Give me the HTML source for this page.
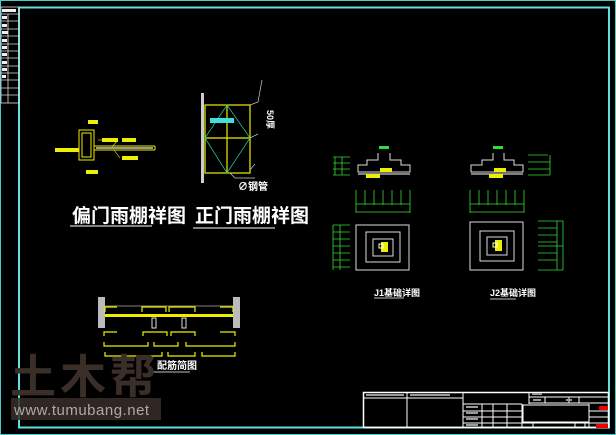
<!DOCTYPE html>
<html><head><meta charset="utf-8"><style>
html,body{margin:0;padding:0;background:#000;width:616px;height:435px;overflow:hidden}
svg{display:block}
text{font-family:"Liberation Sans","Noto Sans CJK SC",sans-serif}
</style></head><body>
<svg width="616" height="435" viewBox="0 0 616 435" xmlns="http://www.w3.org/2000/svg">
<rect width="616" height="435" fill="#000"/>
<rect x="0.5" y="0.5" width="615" height="434" fill="none" stroke="#4cc" stroke-width="1"/>
<rect x="19" y="7.5" width="590" height="420" fill="none" stroke="#5ee0e0" stroke-width="2"/>
<g stroke="#ddd" stroke-width="0.8" fill="none">
<rect x="1" y="7" width="18" height="96"/>
<line x1="8" y1="14" x2="8" y2="103"/>
<line x1="1" y1="14" x2="19" y2="14"/><line x1="1" y1="21" x2="19" y2="21"/><line x1="1" y1="29" x2="19" y2="29"/><line x1="1" y1="36" x2="19" y2="36"/><line x1="1" y1="44" x2="19" y2="44"/><line x1="1" y1="51" x2="19" y2="51"/><line x1="1" y1="58" x2="19" y2="58"/><line x1="1" y1="66" x2="19" y2="66"/><line x1="1" y1="73" x2="19" y2="73"/><line x1="1" y1="80" x2="19" y2="80"/><line x1="1" y1="88" x2="19" y2="88"/><line x1="1" y1="95" x2="19" y2="95"/>
</g>
<g fill="#eee"><rect x="2" y="9" width="14" height="3"/><rect x="2" y="16" width="5" height="3"/><rect x="2" y="24" width="5" height="3"/><rect x="2" y="31" width="6" height="3"/><rect x="2" y="39" width="5" height="3"/><rect x="2" y="46" width="5" height="3"/><rect x="2" y="53" width="5" height="3"/><rect x="2" y="61" width="5" height="3"/><rect x="2" y="68" width="5" height="3"/><rect x="2" y="75" width="4" height="3"/></g>

<g fill="none" stroke="#ee0" stroke-width="1">
<rect x="79" y="130" width="15" height="30"/>
<rect x="82" y="133" width="9" height="24"/>
<line x1="94" y1="146" x2="155" y2="146"/><line x1="94" y1="150" x2="155" y2="150"/><line x1="155" y1="146" x2="155" y2="150"/>
</g>
<line x1="96" y1="148" x2="153" y2="148" stroke="#ccc" stroke-width="1.5"/>
<g fill="#ee0"><rect x="88" y="120" width="10" height="4"/><rect x="102" y="138" width="16" height="4"/><rect x="122" y="138" width="14" height="4"/><rect x="55" y="148" width="24" height="4"/><rect x="122" y="156" width="16" height="4"/><rect x="86" y="170" width="12" height="4"/></g>
<g stroke="#ee0" stroke-width="0.6"><line x1="98" y1="140" x2="104" y2="140"/><line x1="118" y1="140" x2="112" y2="147"/><line x1="120" y1="158" x2="114" y2="150"/></g>

<rect x="201" y="93" width="3" height="90" fill="#ccc"/>
<g fill="none" stroke="#ee0" stroke-width="1.2">
<rect x="205" y="105" width="45" height="68"/>
<line x1="205" y1="138" x2="250" y2="138"/><line x1="227" y1="105" x2="227" y2="173"/>
</g>
<g stroke="#2b9" stroke-width="0.8" fill="none"><polyline points="205,138 227,105 250,138 227,173 205,138"/></g>
<rect x="210" y="118" width="24" height="5" fill="#4dd"/>
<g stroke="#ccc" stroke-width="0.7" fill="none"><polyline points="250,105 258,102 262,80"/><polyline points="250,138 258,134"/><polyline points="250,170 255,164"/><polyline points="230,173 235,178 255,178"/></g>
<text x="267" y="110" font-size="9" fill="#fff" font-weight="bold" transform="rotate(90 267 110)">50厚</text>
<text x="238" y="190" font-size="10" fill="#fff" font-weight="bold">∅钢管</text>

<text x="72" y="222" font-size="19" fill="#fff" font-weight="bold">偏门雨棚祥图</text>
<line x1="70" y1="226" x2="152" y2="226" stroke="#fff" stroke-width="1"/>
<text x="195" y="222" font-size="19" fill="#fff" font-weight="bold">正门雨棚祥图</text>
<line x1="193" y1="228" x2="275" y2="228" stroke="#fff" stroke-width="1"/>

<g fill="none" stroke="#ddd" stroke-width="1">
<polyline points="378,153 378,160 367,160 367,165 358,165 358,172 410,172 410,165 401,165 401,160 390,160 390,153"/>
<line x1="358" y1="174" x2="410" y2="174" stroke="#fff"/>
<rect x="356" y="225" width="53" height="45"/><rect x="366" y="232" width="34" height="30"/><rect x="373" y="239" width="20" height="17"/>
</g>
<rect x="379" y="146" width="10" height="3" fill="#3d3"/>
<rect x="380" y="168" width="12" height="4" fill="#ee0"/><rect x="366" y="174" width="14" height="4" fill="#ee0"/>
<rect x="381" y="242" width="7" height="10" fill="#ee0"/><rect x="379" y="244" width="4" height="4" fill="none" stroke="#fff"/>
<g stroke="#3d3" stroke-width="0.8" fill="none">
<line x1="356" y1="204" x2="410" y2="204"/><line x1="356" y1="212" x2="410" y2="212"/>
<line x1="356" y1="190" x2="356" y2="213"/><line x1="365" y1="190" x2="365" y2="205"/><line x1="374" y1="190" x2="374" y2="205"/><line x1="383" y1="190" x2="383" y2="205"/><line x1="392" y1="190" x2="392" y2="205"/><line x1="401" y1="190" x2="401" y2="205"/><line x1="410" y1="190" x2="410" y2="213"/>
<line x1="335" y1="157" x2="335" y2="175"/><line x1="342" y1="157" x2="342" y2="175"/>
<line x1="333" y1="157" x2="350" y2="157"/><line x1="333" y1="163" x2="350" y2="163"/><line x1="333" y1="169" x2="350" y2="169"/><line x1="333" y1="175" x2="350" y2="175"/>
<line x1="333" y1="225" x2="333" y2="270"/><line x1="340" y1="225" x2="340" y2="270"/>
<line x1="333" y1="225" x2="350" y2="225"/><line x1="333" y1="232" x2="350" y2="232"/><line x1="333" y1="239" x2="350" y2="239"/><line x1="333" y1="246" x2="350" y2="246"/><line x1="333" y1="253" x2="350" y2="253"/><line x1="333" y1="260" x2="350" y2="260"/><line x1="333" y1="267" x2="350" y2="267"/>
</g>
<text x="374" y="296" font-size="9" fill="#fff" font-weight="bold">J1基础详图</text>
<line x1="374" y1="298" x2="404" y2="298" stroke="#fff" stroke-width="0.8"/>

<g fill="none" stroke="#ddd" stroke-width="1">
<polyline points="493,153 493,160 482,160 482,165 471,165 471,172 523,172 523,165 514,165 514,160 504,160 504,153"/>
<line x1="471" y1="174" x2="523" y2="174" stroke="#fff"/>
<rect x="470" y="222" width="53" height="48"/><rect x="480" y="231" width="34" height="30"/><rect x="487" y="237" width="20" height="18"/>
</g>
<rect x="493" y="146" width="10" height="3" fill="#3d3"/>
<rect x="494" y="168" width="12" height="4" fill="#ee0"/><rect x="489" y="174" width="14" height="4" fill="#ee0"/>
<rect x="495" y="240" width="7" height="11" fill="#ee0"/><rect x="493" y="243" width="4" height="4" fill="none" stroke="#fff"/>
<g stroke="#3d3" stroke-width="0.8" fill="none">
<line x1="470" y1="204" x2="524" y2="204"/><line x1="470" y1="212" x2="524" y2="212"/>
<line x1="470" y1="190" x2="470" y2="213"/><line x1="479" y1="190" x2="479" y2="205"/><line x1="488" y1="190" x2="488" y2="205"/><line x1="497" y1="190" x2="497" y2="205"/><line x1="506" y1="190" x2="506" y2="205"/><line x1="515" y1="190" x2="515" y2="205"/><line x1="524" y1="190" x2="524" y2="213"/>
<line x1="550" y1="155" x2="550" y2="175"/><line x1="548" y1="155" x2="528" y2="155"/><line x1="528" y1="162" x2="550" y2="162"/><line x1="528" y1="169" x2="550" y2="169"/><line x1="528" y1="175" x2="550" y2="175"/>
<line x1="557" y1="221" x2="557" y2="270"/><line x1="563" y1="221" x2="563" y2="270"/>
<line x1="538" y1="221" x2="563" y2="221"/><line x1="538" y1="228" x2="557" y2="228"/><line x1="538" y1="235" x2="557" y2="235"/><line x1="538" y1="242" x2="557" y2="242"/><line x1="538" y1="246" x2="563" y2="246"/><line x1="538" y1="253" x2="557" y2="253"/><line x1="538" y1="260" x2="557" y2="260"/><line x1="538" y1="270" x2="563" y2="270"/>
</g>
<text x="490" y="296" font-size="9" fill="#fff" font-weight="bold">J2基础详图</text>
<line x1="490" y1="299" x2="516" y2="299" stroke="#fff" stroke-width="0.8"/>

<rect x="98" y="297" width="7" height="31" fill="#bbb"/><rect x="233" y="297" width="7" height="31" fill="#bbb"/>
<line x1="105" y1="306" x2="233" y2="306" stroke="#aaa" stroke-width="0.8"/>
<rect x="105" y="314" width="128" height="3" fill="#ee0"/>
<g fill="none" stroke="#ee0" stroke-width="1.2">
<polyline points="105,312 105,307 117,307"/><polyline points="142,312 142,307 166,307 166,312"/><polyline points="169,312 169,307 195,307 195,312"/><polyline points="220,307 233,307 233,312"/>
<polyline points="104,336 104,332 117,332"/><polyline points="143,336 143,332 167,332 167,336"/><polyline points="171,336 171,332 195,332 195,336"/><polyline points="220,332 235,332 235,336"/>
<polyline points="104,342 104,346 148,346 148,342"/><polyline points="154,342 154,346 178,346 178,342"/><polyline points="186,342 186,346 235,346 235,342"/>
<polyline points="105,352 105,356 162,356 162,352"/><polyline points="168,352 168,356 195,356 195,352"/><polyline points="202,352 202,356 235,356 235,352"/>
</g>
<rect x="152" y="318" width="4" height="10" fill="none" stroke="#ddd"/><rect x="182" y="318" width="4" height="10" fill="none" stroke="#ddd"/>
<text x="157" y="369" font-size="10" fill="#fff" font-weight="bold">配筋简图</text>
<line x1="153" y1="372" x2="190" y2="372" stroke="#fff" stroke-width="0.8"/>

<text x="10" y="393" font-size="46" fill="#3a2e28" font-weight="bold" letter-spacing="4">土木帮</text>
<rect x="11" y="398" width="150" height="22" fill="#3a2e28" opacity="0.85"/>
<text x="14" y="415" font-size="15" fill="#aaa" letter-spacing="0.5">www.tumubang.net</text>

<g fill="none" stroke="#fff" stroke-width="1">
<rect x="363.5" y="392.5" width="245" height="35" stroke-width="1.5"/>
<line x1="363" y1="398" x2="463" y2="398"/>
<line x1="407" y1="392" x2="407" y2="428"/><line x1="463" y1="392" x2="463" y2="428"/>
<line x1="463" y1="404" x2="522" y2="404"/><line x1="529" y1="392" x2="529" y2="404"/>
<line x1="529" y1="397" x2="609" y2="397"/><line x1="529" y1="403" x2="609" y2="403"/>
<line x1="545" y1="397" x2="545" y2="403"/><line x1="569" y1="397" x2="569" y2="403"/><line x1="579" y1="397" x2="579" y2="403"/>
<line x1="463" y1="411" x2="522" y2="411"/><line x1="463" y1="417" x2="522" y2="417"/><line x1="463" y1="423" x2="609" y2="423"/>
<line x1="482" y1="404" x2="482" y2="428"/><line x1="493" y1="404" x2="493" y2="428"/><line x1="507" y1="404" x2="507" y2="428"/><line x1="522" y1="404" x2="522" y2="428"/>
<rect x="523" y="405" width="66" height="17"/>
<line x1="589" y1="411" x2="609" y2="411"/><line x1="589" y1="417" x2="609" y2="417"/><line x1="589" y1="404" x2="589" y2="428"/>
<line x1="533" y1="423" x2="533" y2="428"/><line x1="575" y1="423" x2="575" y2="428"/><line x1="585" y1="423" x2="585" y2="428"/>
</g>
<rect x="599" y="406" width="9" height="4" fill="#e00"/><rect x="596" y="424" width="12" height="4" fill="#e00"/>
<g fill="#999"><rect x="366" y="394" width="38" height="2"/><rect x="410" y="394" width="40" height="2"/><rect x="532" y="393" width="10" height="2"/><rect x="533" y="399" width="8" height="2"/><rect x="566" y="399" width="6" height="2"/><rect x="466" y="406" width="12" height="2"/><rect x="466" y="412" width="12" height="2"/><rect x="466" y="418" width="12" height="2"/><rect x="466" y="424" width="12" height="2"/></g>
</svg>
</body></html>
